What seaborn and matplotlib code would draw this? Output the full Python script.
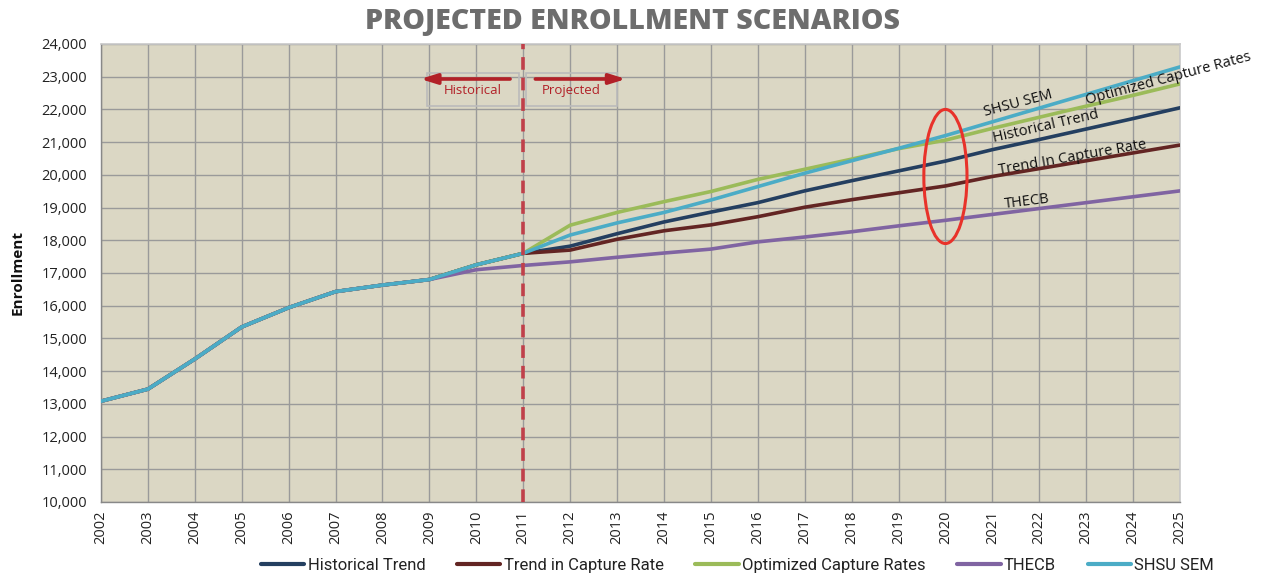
import numpy as np
import pandas as pd
import matplotlib
matplotlib.use("Agg")
import matplotlib.pyplot as plt
import seaborn as sns
from matplotlib.patches import Ellipse, Rectangle
from matplotlib.lines import Line2D

years = list(range(2002, 2026))
shared_hist = [13080, 13450, 14370, 15350, 15940, 16430, 16630, 16800, 17250, 17600]

historical_trend = shared_hist + [17820, 18200, 18560, 18860, 19150, 19510, 19820, 20120, 20420, 20770, 21080, 21400, 21720, 22050]
trend_capture = shared_hist + [17700, 18030, 18290, 18470, 18720, 19010, 19240, 19450, 19660, 19950, 20190, 20430, 20670, 20910]
optimized = shared_hist + [18460, 18850, 19180, 19490, 19860, 20170, 20480, 20800, 21060, 21420, 21760, 22100, 22430, 22780]
thecb = shared_hist[:8] + [17100, 17230, 17340, 17480, 17610, 17730, 17950, 18100, 18260, 18440, 18610, 18790, 18970, 19150, 19330, 19510]
shsu_sem = shared_hist + [18160, 18530, 18850, 19230, 19640, 20050, 20430, 20810, 21200, 21620, 22040, 22460, 22880, 23300]

series_names = ["Historical Trend", "Trend in Capture Rate", "Optimized Capture Rates", "THECB", "SHSU SEM"]
series_colors = ["#243f60", "#632523", "#9bbb59", "#8064a2", "#4bacc6"]
series_values = [historical_trend, trend_capture, optimized, thecb, shsu_sem]

y_ticks = list(range(10000, 24001, 1000))

df = pd.concat([pd.DataFrame({"Year": years, "Enrollment": v, "Scenario": n})
                for n, v in zip(series_names, series_values)], ignore_index=True)

sns.set_theme(style="white")
plt.rcParams['font.family'] = ['Open Sans', 'DejaVu Sans']

fig = plt.figure(figsize=(12.65, 5.78), dpi=100)
ax = fig.add_axes([0.0798, 0.1315, 0.853, 0.7924])
ax.set_facecolor("#dbd7c4")

sns.lineplot(data=df, x="Year", y="Enrollment", hue="Scenario", hue_order=series_names,
             palette=series_colors, linewidth=2.6, ax=ax, legend=False, zorder=3)

ax.set_xlim(2002, 2025)
ax.set_ylim(10000, 24000)
ax.set_xticks(years)
ax.set_xticklabels([str(y) for y in years], rotation=90, fontsize=10.5, color="#222222")
ax.set_yticks(y_ticks)
ax.set_yticklabels([f"{v:,}" for v in y_ticks], fontsize=10.5, color="#222222")
ax.grid(True, color="#9a9a9a", linewidth=1.0)
ax.set_axisbelow(True)
ax.tick_params(axis="y", length=8, color="#888888", width=1, pad=2)
ax.tick_params(axis="x", length=0, pad=6)
for s in ["top", "right"]:
    ax.spines[s].set_color("#c8c8c8")
    ax.spines[s].set_linewidth(1.2)
for s in ["left", "bottom"]:
    ax.spines[s].set_color("#888888")
    ax.spines[s].set_linewidth(1.0)

ax.set_xlabel("")
ax.set_ylabel("Enrollment", fontsize=11, fontweight="bold", color="#111111", labelpad=12)

fig.text(0.5, 0.963, "PROJECTED ENROLLMENT SCENARIOS", ha="center", va="center",
         fontsize=20.5, fontweight="heavy", color="#6d6d6d")

# projection divider
ax.axvline(2011, color="#c0404a", linestyle=(0, (3.5, 2.2)), linewidth=2.6, zorder=4)

red = "#b22027"
# Historical / Projected boxes
ax.add_patch(Rectangle((2008.95, 23110), 1.96, -1000, fill=False, edgecolor="#bbbbbb", linewidth=1.2, zorder=4))
ax.add_patch(Rectangle((2011.06, 23110), 1.94, -1000, fill=False, edgecolor="#bbbbbb", linewidth=1.2, zorder=4))
ax.annotate("", xy=(2008.75, 22930), xytext=(2010.78, 22930),
            arrowprops=dict(arrowstyle="-|>,head_length=0.8,head_width=0.25", color=red, lw=2.6), zorder=5)
ax.annotate("", xy=(2013.25, 22930), xytext=(2011.2, 22930),
            arrowprops=dict(arrowstyle="-|>,head_length=0.8,head_width=0.25", color=red, lw=2.6), zorder=5)
ax.text(2009.93, 22570, "Historical", ha="center", va="center", color=red, fontsize=9.5, zorder=5)
ax.text(2012.03, 22570, "Projected", ha="center", va="center", color=red, fontsize=9.5, zorder=5)

# highlight ellipse
ax.add_patch(Ellipse((2020.0, 19950), 0.92, 4100, fill=False, edgecolor="#e8322a", linewidth=2.2, zorder=5))

# inline labels
lab_kw = dict(fontsize=10.5, color="#111111", ha="center", va="center", rotation_mode="anchor", zorder=6)
ax.text(2021.55, 22180, "SHSU SEM", rotation=15, **lab_kw)
ax.text(2024.75, 22930, "Optimized Capture Rates", rotation=15, clip_on=False, **lab_kw)
ax.text(2022.15, 21470, "Historical Trend", rotation=13, **lab_kw)
ax.text(2022.7, 20530, "Trend In Capture Rate", rotation=10, **lab_kw)
ax.text(2021.75, 19170, "THECB", rotation=7, **lab_kw)

# legend
handles = [Line2D([0], [0], color=c, lw=3) for c in series_colors]
leg = fig.legend(handles, series_names, loc="center", bbox_to_anchor=(0.583, 0.022), ncol=5,
                 frameon=False, fontsize=12, handlelength=2.6, handletextpad=0.2, columnspacing=1.9)
for t in leg.get_texts():
    t.set_fontfamily(["Roboto", "DejaVu Sans"])
    t.set_color("#222222")

fig.savefig("out.png", dpi=100, facecolor="white")
